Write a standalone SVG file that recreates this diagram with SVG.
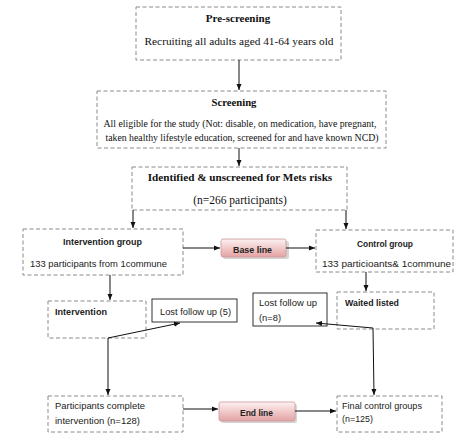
<svg xmlns="http://www.w3.org/2000/svg" width="474" height="442" viewBox="0 0 474 442">
<defs>
<linearGradient id="pink" x1="0" y1="0" x2="0" y2="1">
<stop offset="0" stop-color="#fdf1f1"/>
<stop offset="1" stop-color="#e4a2a2"/>
</linearGradient>
<marker id="arr" markerWidth="8" markerHeight="8" refX="6" refY="3" orient="auto" markerUnits="userSpaceOnUse">
<path d="M0,0.5 L6,3 L0,5.5 z" fill="#111"/>
</marker>
</defs>
<style>
.dash{fill:#fff;stroke:#8a8a8a;stroke-width:1;stroke-dasharray:4 2.5}
.solid{fill:#fff;stroke:#333;stroke-width:1}
.pk{fill:url(#pink);stroke:#c99;stroke-width:0.8}
.shadow{fill:#d6d6d6}
.ser{font-family:"Liberation Serif","Times New Roman",serif;fill:#111}
.sb{font-family:"Liberation Serif","Times New Roman",serif;font-weight:bold;fill:#111}
.sans{font-family:"Liberation Sans",Arial,sans-serif;fill:#222;font-size:9.5px}
.sansb{font-family:"Liberation Sans",Arial,sans-serif;font-weight:bold;fill:#222;font-size:9.5px}
.ln{fill:none;stroke:#111;stroke-width:1}
</style>
<rect width="474" height="442" fill="#fff"/>
<g id="prescreening">
<rect class="dash" x="136" y="7" width="205" height="53"/>
<text class="sb" x="238" y="22" font-size="11" text-anchor="middle">Pre-screening</text>
<text class="ser" x="239" y="45" font-size="11.3" text-anchor="middle">Recruiting all adults aged 41-64 years old</text>
</g>
<g id="screening">
<rect class="dash" x="97" y="91" width="289" height="57"/>
<text class="sb" x="234" y="106" font-size="10.7" text-anchor="middle">Screening</text>
<text class="ser" x="240" y="127" font-size="9.8" text-anchor="middle">All eligible for the study (Not: disable, on medication,  have pregnant,</text>
<text class="ser" x="242" y="141" font-size="9.8" text-anchor="middle">taken healthy lifestyle education, screened for and have known NCD)</text>
</g>
<g id="identified">
<rect class="dash" x="132" y="167" width="215" height="43"/>
<text class="sb" x="240" y="181" font-size="11.2" text-anchor="middle">Identified &amp; unscreened for Mets risks</text>
<text class="ser" x="240" y="204" font-size="11.5" text-anchor="middle">(n=266 participants)</text>
</g>
<g id="intervention-group">
<rect class="dash" x="23" y="229" width="160" height="46"/>
<text class="sansb" x="63" y="244.5" textLength="79" lengthAdjust="spacingAndGlyphs">Intervention group</text>
<text class="sans" x="30" y="266.5" textLength="137" lengthAdjust="spacingAndGlyphs">133 participants from 1commune</text>
</g>
<g id="baseline">
<rect class="shadow" x="223" y="241" width="66" height="18" rx="2"/>
<rect class="pk" x="221" y="239" width="65" height="18" rx="2"/>
<text class="sansb" x="233" y="252.5" textLength="39" lengthAdjust="spacingAndGlyphs">Base line</text>
</g>
<g id="control-group">
<rect class="dash" x="316" y="230" width="137" height="42"/>
<text class="sansb" x="357" y="246.5" textLength="56" lengthAdjust="spacingAndGlyphs">Control group</text>
<text class="sans" x="322" y="266.5" textLength="129" lengthAdjust="spacingAndGlyphs">133 particioants&amp; 1commune</text>
</g>
<g id="intervention">
<rect class="dash" x="48" y="301" width="98" height="37"/>
<text class="sansb" x="55" y="314.5" textLength="52" lengthAdjust="spacingAndGlyphs">Intervention</text>
</g>
<g id="lost5">
<rect class="solid" x="152" y="299" width="85" height="23"/>
<text class="sans" x="160" y="314.5" textLength="71" lengthAdjust="spacingAndGlyphs">Lost follow up (5)</text>
</g>
<g id="lost8">
<rect class="solid" x="253" y="293" width="74" height="33"/>
<text class="sans" x="259" y="305.5" textLength="58" lengthAdjust="spacingAndGlyphs">Lost follow up</text>
<text class="sans" x="259" y="321" textLength="22" lengthAdjust="spacingAndGlyphs">(n=8)</text>
</g>
<g id="waited">
<rect class="dash" x="337" y="292" width="97" height="37"/>
<text class="sansb" x="345" y="305.5" textLength="54" lengthAdjust="spacingAndGlyphs">Waited listed</text>
</g>
<g id="participants-complete">
<rect class="dash" x="48" y="396" width="135" height="36"/>
<text class="sans" x="55" y="408.5" textLength="90" lengthAdjust="spacingAndGlyphs">Participants complete</text>
<text class="sans" x="55" y="423.5" textLength="85" lengthAdjust="spacingAndGlyphs">intervention (n=128)</text>
</g>
<g id="endline">
<rect class="shadow" x="221" y="404" width="76" height="19" rx="2"/>
<rect class="pk" x="219" y="402" width="76" height="19" rx="2"/>
<text class="sansb" x="240" y="415.5" textLength="33" lengthAdjust="spacingAndGlyphs">End line</text>
</g>
<g id="final-control">
<rect class="dash" x="337" y="396" width="105" height="36"/>
<text class="sans" x="342" y="409" textLength="80" lengthAdjust="spacingAndGlyphs">Final control groups</text>
<text class="sans" x="342" y="421.5" textLength="31" lengthAdjust="spacingAndGlyphs">(n=125)</text>
</g>
<g id="connectors">
<line class="ln" x1="239" y1="60" x2="239" y2="90" marker-end="url(#arr)"/>
<line class="ln" x1="239" y1="148" x2="239" y2="166" marker-end="url(#arr)"/>
<line class="ln" x1="133" y1="210" x2="133" y2="228" marker-end="url(#arr)"/>
<line class="ln" x1="346" y1="210" x2="346" y2="229" marker-end="url(#arr)"/>
<line class="ln" x1="183" y1="248" x2="220" y2="248" marker-end="url(#arr)"/>
<line class="ln" x1="286" y1="248" x2="315" y2="248" marker-end="url(#arr)"/>
<line class="ln" x1="110" y1="275" x2="110" y2="300" marker-end="url(#arr)"/>
<line class="ln" x1="366" y1="272" x2="366" y2="291" marker-end="url(#arr)"/>
<line class="ln" x1="108" y1="338" x2="180" y2="323" marker-end="url(#arr)"/>
<line class="ln" x1="108" y1="338" x2="108" y2="395" marker-end="url(#arr)"/>
<line class="ln" x1="373" y1="328" x2="316" y2="323" marker-end="url(#arr)"/>
<line class="ln" x1="373" y1="328" x2="374" y2="395" marker-end="url(#arr)"/>
<line class="ln" x1="183" y1="409" x2="218" y2="409" marker-end="url(#arr)"/>
<line class="ln" x1="295" y1="411" x2="336" y2="411" marker-end="url(#arr)"/>
</g>
</svg>
